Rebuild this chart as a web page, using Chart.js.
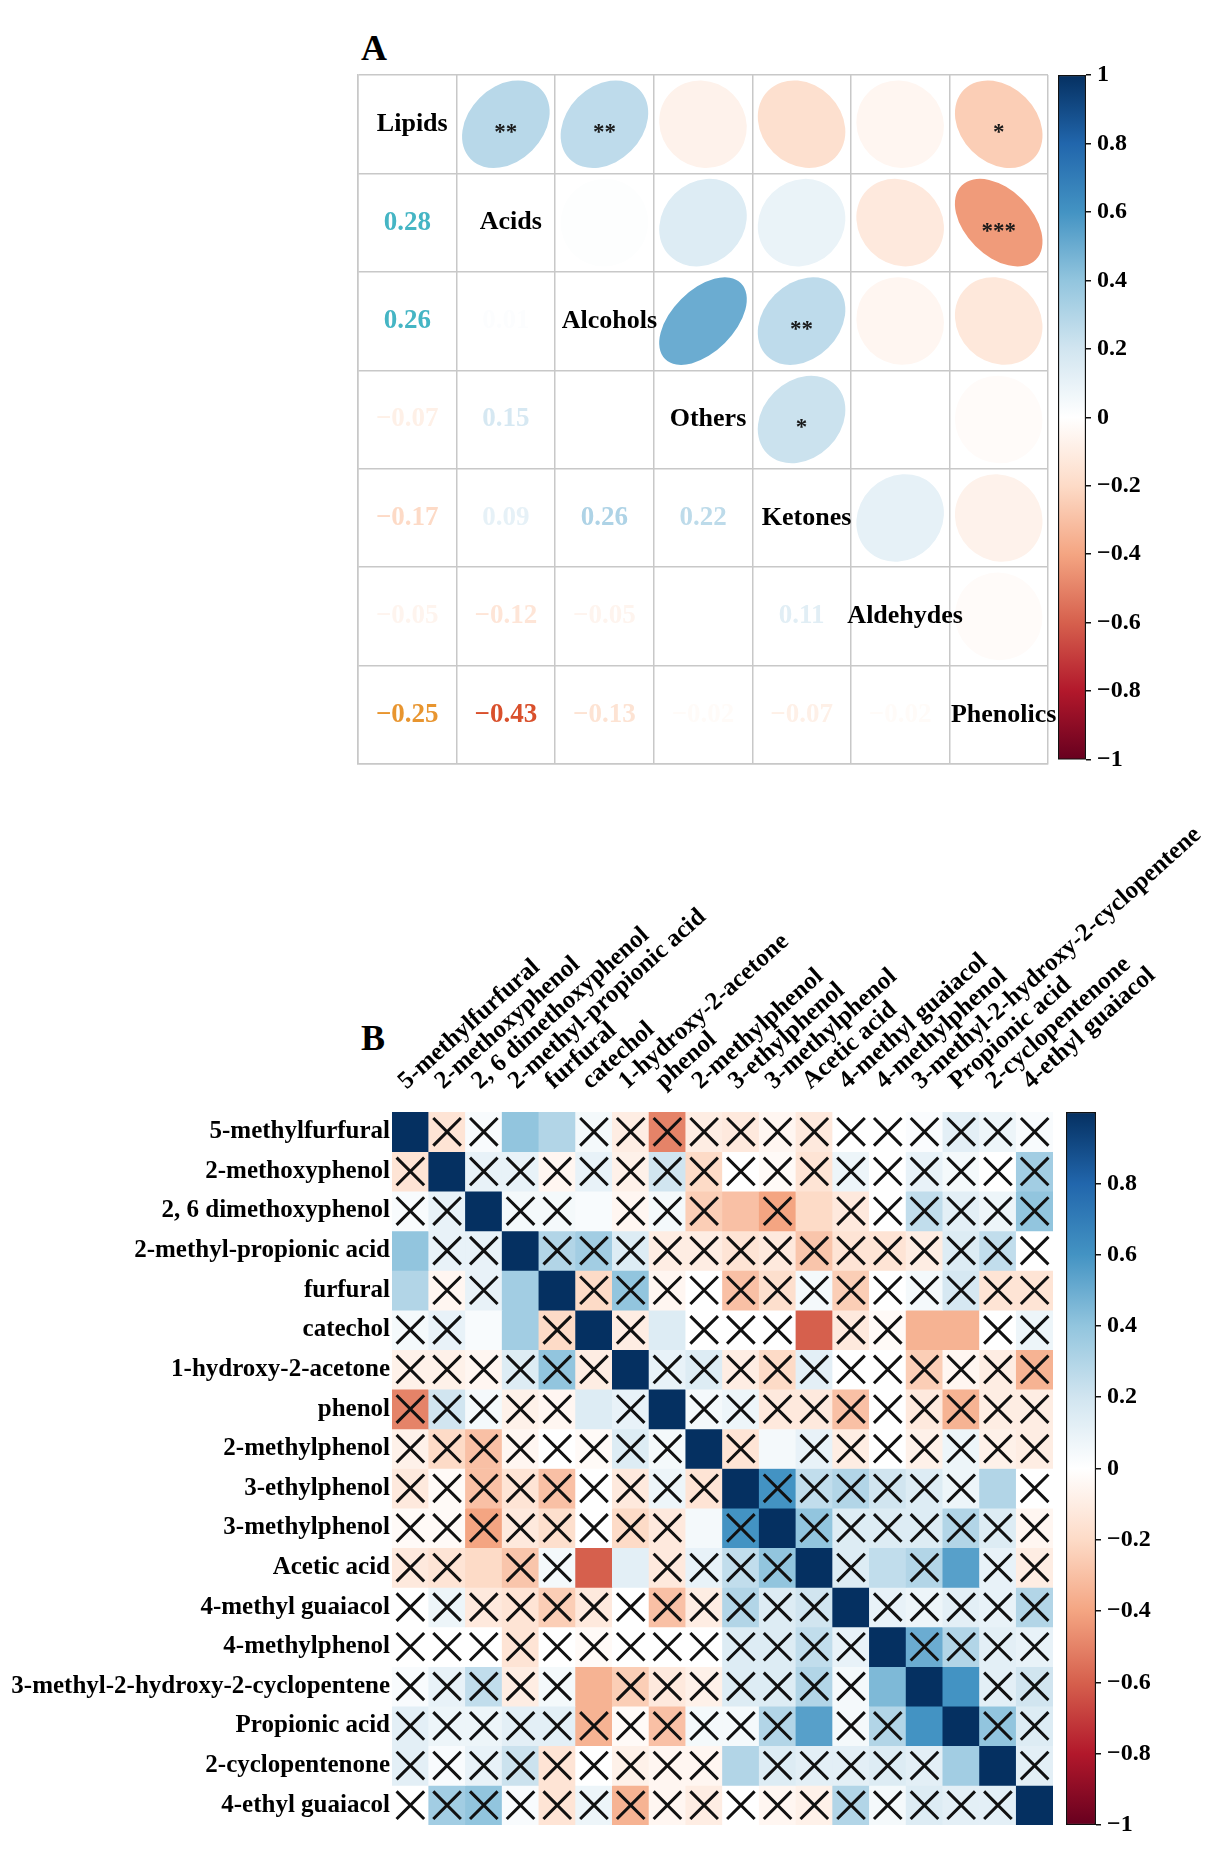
<!DOCTYPE html>
<html>
<head>
<meta charset="utf-8">
<title>Correlation matrices</title>
<script src="https://cdn.jsdelivr.net/npm/chart.js@4.4.1/dist/chart.umd.min.js"></script>
<style>
    body { margin: 0; background: #fff; }
    #page { position: relative; width: 1220px; height: 1858px; overflow: hidden; }
    canvas { position: absolute; }
    .tag { position: absolute; font: bold 36px/36px 'Liberation Serif', serif; color: #000; }
</style>
</head>
<body>
<div id="page">
    <div class="tag" style="left:361px;top:30px">A</div>
    <div class="tag" style="left:361px;top:1020px">B</div>
    <canvas id="corrA" width="1220" height="780" style="left:0;top:0"></canvas>
    <canvas id="barA" width="180" height="780" style="left:1040px;top:0"></canvas>
    <canvas id="heatB" width="1220" height="1078" style="left:0;top:780px"></canvas>
    <canvas id="barB" width="170" height="768" style="left:1050px;top:1090px"></canvas>
</div>
<script>
const SERIF = "'Liberation Serif', 'Times New Roman', serif";

// ---- Panel A: compound classes ----
const groupsA = ['Lipids', 'Acids', 'Alcohols', 'Others', 'Ketones', 'Aldehydes', 'Phenolics'];

// lower triangle: printed coefficients (row i, columns 0..i-1), null = not printed
const printedA = [
    [],
    [0.28],
    [0.26, 0.01],
    [-0.07, 0.15, null],
    [-0.17, 0.09, 0.26, 0.22],
    [-0.05, -0.12, -0.05, 0, 0.11],
    [-0.25, -0.43, -0.13, -0.02, -0.07, -0.02]
];

// upper triangle: ellipse coefficients (row i, columns i+1..6)
const ellipseA = [
    [0.28, 0.26, -0.07, -0.17, -0.05, -0.25],
    [0.01, 0.15, 0.09, -0.12, -0.43],
    [0.5, 0.26, -0.05, -0.13],
    [0.22, 0, -0.02],
    [0.11, -0.07],
    [-0.02],
    []
];

const starsA = [
    ['**', '**', '', '', '', '*'],
    ['', '', '', '', '***'],
    ['', '**', '', ''],
    ['*', '', ''],
    ['', ''],
    [''],
    []
];

// ---- Panel B: individual compounds ----
const compoundsB = [
    '5-methylfurfural', '2-methoxyphenol', '2, 6 dimethoxyphenol', '2-methyl-propionic acid',
    'furfural', 'catechol', '1-hydroxy-2-acetone', 'phenol', '2-methylphenol', '3-ethylphenol',
    '3-methylphenol', 'Acetic acid', '4-methyl guaiacol', '4-methylphenol',
    '3-methyl-2-hydroxy-2-cyclopentene', 'Propionic acid', '2-cyclopentenone', '4-ethyl guaiacol'
];

const corrB = [
    [1, -0.15, 0.03, 0.4, 0.3, 0.05, -0.1, -0.5, -0.1, -0.12, -0.05, -0.12, 0, 0, 0.02, 0.12, 0.08, 0.03],
    [-0.15, 1, 0.1, 0.1, -0.05, 0.1, -0.08, 0.2, -0.2, 0, -0.03, -0.15, 0.08, 0, 0.1, 0.05, 0, 0.35],
    [0.03, 0.1, 1, 0.05, 0.05, 0.03, -0.05, 0.05, -0.25, -0.3, -0.4, -0.2, -0.12, 0, 0.25, 0.12, 0.08, 0.4],
    [0.4, 0.1, 0.1, 1, 0.3, 0.35, 0.15, -0.1, -0.1, -0.15, -0.12, -0.28, -0.15, -0.15, -0.1, 0.15, 0.25, 0],
    [0.3, -0.05, 0.1, 0.35, 1, -0.2, 0.4, -0.05, 0, -0.3, -0.18, 0.05, -0.25, 0, 0.05, 0.18, -0.15, -0.15],
    [0.05, 0.1, 0.03, 0.35, -0.2, 1, -0.1, 0.15, 0, 0, 0, -0.6, -0.12, -0.03, -0.35, -0.35, 0, 0.08],
    [-0.08, -0.08, -0.05, 0.15, 0.4, -0.1, 1, 0.1, 0.15, -0.1, -0.2, 0.12, 0, 0, -0.25, -0.05, -0.1, -0.35],
    [-0.5, 0.2, 0.05, -0.08, -0.05, 0.15, 0.1, 1, 0.05, 0.08, -0.12, -0.12, -0.3, 0, -0.12, -0.35, -0.1, -0.1],
    [-0.08, -0.2, -0.3, -0.05, 0, -0.03, 0.15, 0.05, 1, -0.15, 0.05, 0.1, -0.1, 0, -0.08, 0.08, -0.08, -0.1],
    [-0.12, -0.03, -0.3, -0.15, -0.3, 0, -0.12, 0.08, -0.15, 1, 0.6, 0.25, 0.3, 0.2, 0.15, 0.08, 0.3, 0],
    [-0.03, -0.03, -0.4, -0.12, -0.18, 0, -0.2, -0.12, 0.05, 0.6, 1, 0.4, 0.15, 0.15, 0.15, 0.3, 0.15, -0.05],
    [-0.12, -0.15, -0.2, -0.28, 0.05, -0.6, 0.12, -0.12, 0.1, 0.25, 0.4, 1, 0.15, 0.25, 0.3, 0.55, 0.1, -0.1],
    [0, 0.08, -0.12, -0.15, -0.25, -0.12, 0, -0.3, -0.1, 0.3, 0.15, 0.2, 1, 0.1, 0.08, 0.12, 0.1, 0.3],
    [0, 0, 0, -0.15, 0, -0.03, 0, 0, 0, 0.15, 0.15, 0.25, 0.1, 1, 0.5, 0.3, 0.12, 0.1],
    [0.03, 0.1, 0.25, -0.1, 0.05, -0.35, -0.25, -0.12, -0.08, 0.15, 0.15, 0.3, 0.05, 0.45, 1, 0.6, 0.12, 0.2],
    [0.12, 0.08, 0.08, 0.12, 0.12, -0.35, -0.03, -0.3, 0.05, 0.05, 0.3, 0.55, 0.05, 0.3, 0.6, 1, 0.4, 0.15],
    [0.12, 0.03, 0.1, 0.22, -0.15, 0, -0.08, -0.05, -0.05, 0.3, 0.15, 0.12, 0.12, 0.15, 0.12, 0.35, 1, 0.12],
    [0, 0.35, 0.4, 0.03, -0.15, 0.08, -0.35, -0.05, -0.1, 0, -0.05, -0.08, 0.3, 0.05, 0.15, 0.12, 0.12, 1]
];

// 1 = crossed out (not significant)
const crossB = [
    '011001111111111111',
    '101111111111111111',
    '110110111010111111',
    '011011111111111111',
    '011001111111111111',
    '110010101110110011',
    '111111011111111111',
    '111110101111111111',
    '111111110101111111',
    '111111111011111101',
    '111111110101111111',
    '110110011110101011',
    '111111111111011111',
    '111111111111101111',
    '111110111111100011',
    '111111111110110011',
    '111111111011111001',
    '111111111111111110'
];

const colorbarTicks = [-1, -0.8, -0.6, -0.4, -0.2, 0, 0.2, 0.4, 0.6, 0.8, 1];

// RdBu palette (corrplot COL2)
const rdbuStops = ['#67001F', '#B2182B', '#D6604D', '#F4A582', '#FDDBC7', '#FFFFFF',
                   '#D1E5F0', '#92C5DE', '#4393C3', '#2166AC', '#053061'];

function hexToRgb(h) {
    return [1, 3, 5].map(i => parseInt(h.slice(i, i + 2), 16));
}

function rdbu(v) {
    const t = (Math.max(-1, Math.min(1, v)) + 1) / 2 * (rdbuStops.length - 1);
    const i = Math.min(Math.floor(t), rdbuStops.length - 2);
    const f = t - i;
    const a = hexToRgb(rdbuStops[i]);
    const b = hexToRgb(rdbuStops[i + 1]);
    const c = a.map((x, k) => Math.round(x + (b[k] - x) * f));
    return `rgb(${c[0]}, ${c[1]}, ${c[2]})`;
}

function fmtCoef(v) {
    if (v === 0) return '0';
    return (v < 0 ? '\u2212' : '') + Math.abs(v).toFixed(2);
}

// printed numbers that stand out in the original figure
const textHighlight = {
    '1,0': '#45b5c4',
    '2,0': '#45b5c4',
    '6,0': '#e8952f',
    '6,1': '#d9502c'
};

const corrPanelPlugin = {
    id: 'corrPanel',
    afterDatasetsDraw(chart) {
        const { ctx, scales: { x, y } } = chart;
        const cell = Math.min(
            Math.abs(x.getPixelForValue(1) - x.getPixelForValue(0)),
            Math.abs(y.getPixelForValue(1) - y.getPixelForValue(0))
        );
        const k = cell * 0.445;
        const n = groupsA.length;
        ctx.save();
        ctx.textAlign = 'center';
        ctx.textBaseline = 'middle';

        // ellipses and numbers first
        for (let i = 0; i < n; i++) {
            const cy = y.getPixelForValue(i + 0.5);
            for (let j = 0; j < n; j++) {
                const cx = x.getPixelForValue(j + 0.5);
                if (j > i) {
                    const r = ellipseA[i][j - i - 1];
                    ctx.beginPath();
                    ctx.ellipse(cx, cy, k * Math.sqrt(1 + r), k * Math.sqrt(1 - r), -Math.PI / 4, 0, Math.PI * 2);
                    ctx.fillStyle = rdbu(r);
                    ctx.fill();
                    const s = starsA[i][j - i - 1];
                    if (s) {
                        ctx.fillStyle = '#1a1a1a';
                        ctx.font = `bold 23px ${SERIF}`;
                        ctx.fillText(s, cx, cy + 9);
                    }
                } else if (j < i) {
                    const v = printedA[i][j];
                    if (v === null) continue;
                    ctx.fillStyle = textHighlight[`${i},${j}`] || rdbu(v * 1.2);
                    ctx.font = `bold 27px ${SERIF}`;
                    ctx.fillText(fmtCoef(v), cx, cy);
                }
            }
        }

        // diagonal names on top, they may spill into the next cell
        ctx.fillStyle = '#000';
        ctx.font = `bold 26px ${SERIF}`;
        groupsA.forEach((name, i) => {
            ctx.fillText(name, x.getPixelForValue(i + 0.5) + 5, y.getPixelForValue(i + 0.5));
        });
        ctx.restore();
    }
};

const gridA = { color: '#c8c8c8', lineWidth: 1.5, drawTicks: false };
const borderA = { color: '#c8c8c8', width: 1.5 };

new Chart(document.getElementById('corrA'), {
    type: 'scatter',
    data: { datasets: [] },
    options: {
        responsive: false,
        animation: false,
        events: [],
        layout: { padding: { left: 358, top: 75, right: 172, bottom: 16 } },
        plugins: { legend: { display: false }, tooltip: { enabled: false } },
        scales: {
            x: { type: 'linear', min: 0, max: 7, ticks: { display: false, stepSize: 1 }, grid: gridA, border: borderA },
            y: { type: 'linear', min: 0, max: 7, reverse: true, ticks: { display: false, stepSize: 1 }, grid: gridA, border: borderA }
        }
    },
    plugins: [corrPanelPlugin]
});

function gradientFill(context) {
    const chart = context.chart;
    const yScale = chart.scales.y;
    if (!chart.chartArea || !yScale) return '#ffffff';
    const g = chart.ctx.createLinearGradient(0, yScale.getPixelForValue(-1), 0, yScale.getPixelForValue(1));
    colorbarTicks.forEach(v => g.addColorStop((v + 1) / 2, rdbu(v)));
    return g;
}

function colorbar(canvasId, padding, axisWidth, hideTop) {
    return new Chart(document.getElementById(canvasId), {
        type: 'bar',
        data: {
            labels: [''],
            datasets: [{
                data: [[colorbarTicks[0], colorbarTicks[colorbarTicks.length - 1]]],
                backgroundColor: gradientFill,
                borderColor: '#111',
                borderWidth: 1.5,
                borderSkipped: false,
                categoryPercentage: 1,
                barPercentage: 1
            }]
        },
        options: {
            responsive: false,
            animation: false,
            events: [],
            layout: { padding },
            plugins: { legend: { display: false }, tooltip: { enabled: false } },
            scales: {
                x: { display: false },
                y: {
                    position: 'right',
                    min: -1,
                    max: 1,
                    grid: { drawOnChartArea: false, drawTicks: true, tickLength: 5, color: '#111', lineWidth: 1.5 },
                    border: { display: false },
                    ticks: {
                        stepSize: 0.2,
                        padding: 6,
                        color: '#000',
                        font: { family: SERIF, size: 24, weight: 'bold' },
                        callback: (v) => {
                            const r = Math.round(v * 10) / 10;
                            if (hideTop && r === 1) return null;
                            if (r === 0) return '0';
                            return r < 0 ? '\u2212' + Math.abs(r) : String(r);
                        }
                    },
                    afterFit: (s) => { s.width = axisWidth; }
                }
            }
        }
    });
}

colorbar('barA', { left: 18, top: 75, bottom: 16, right: 0 }, 134, false);

// ---- Panel B heatmap ----
const rowBars = compoundsB.map((name, r) => ({
    type: 'bar',
    label: name,
    data: compoundsB.map(() => [r, r + 1]),
    backgroundColor: corrB[r].map(rdbu),
    borderWidth: 0,
    grouped: false,
    categoryPercentage: 1,
    barPercentage: 1
}));

const crossPoints = [];
crossB.forEach((row, r) => {
    row.split('').forEach((flag, c) => {
        if (flag === '1') crossPoints.push({ x: compoundsB[c], y: r + 0.5 });
    });
});

const labelFont = { family: SERIF, size: 25, weight: 'bold' };

new Chart(document.getElementById('heatB'), {
    type: 'bar',
    data: {
        labels: compoundsB,
        datasets: [
            {
                type: 'line',
                label: 'not significant',
                data: crossPoints,
                showLine: false,
                pointStyle: 'crossRot',
                pointRadius: 19.5,
                pointBorderWidth: 3,
                pointBorderColor: '#111',
                pointBackgroundColor: 'rgba(0,0,0,0)',
                order: -1,
                clip: false
            },
            ...rowBars
        ]
    },
    options: {
        responsive: false,
        animation: false,
        events: [],
        layout: { padding: { left: 0, top: 0, right: 167, bottom: 33 } },
        plugins: { legend: { display: false }, tooltip: { enabled: false } },
        scales: {
            x: {
                type: 'category',
                position: 'top',
                offset: true,
                grid: { display: false, drawTicks: false },
                border: { display: false },
                ticks: { autoSkip: false, minRotation: 42, maxRotation: 42, padding: 16, labelOffset: 12,
                         color: '#000', font: labelFont },
                afterFit: (s) => { s.height = 332; }
            },
            y: {
                type: 'linear',
                min: 0,
                max: compoundsB.length,
                reverse: true,
                grid: { display: false, drawTicks: false },
                border: { display: false },
                afterBuildTicks: (s) => { s.ticks = compoundsB.map((_, i) => ({ value: i + 0.5 })); },
                ticks: { autoSkip: false, padding: 2, color: '#000', font: labelFont,
                         callback: (v) => compoundsB[Math.floor(v)] },
                afterFit: (s) => { s.width = 392; }
            }
        }
    }
});

colorbar('barB', { left: 16, top: 22, bottom: 33, right: 0 }, 124, true);
</script>
</body>
</html>
